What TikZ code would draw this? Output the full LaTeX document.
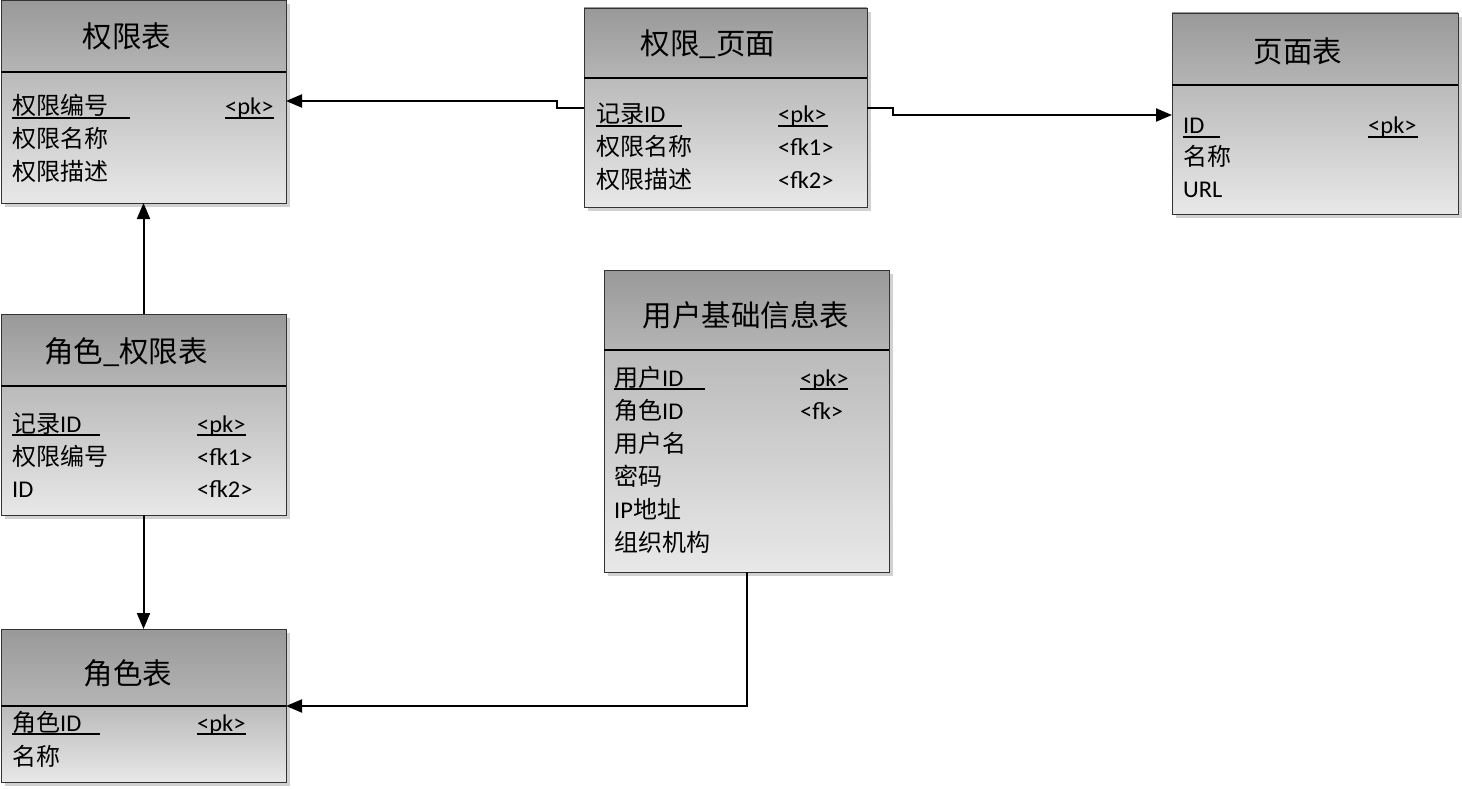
\documentclass[tikz,border=0pt]{standalone}
\usepackage{fontspec}
\setmainfont{Carlito}[FakeStretch=1.02]
\newfontfamily\cjk{Noto Sans CJK SC}
\usetikzlibrary{arrows.meta}
\newcommand\zh[1]{{\cjk #1}}
\tikzset{
  tbl/.style={draw=black!80, line width=0.8pt, inner sep=0pt, outer sep=0pt, anchor=north west},
  hdr/.style={top color=black!40, bottom color=black!29},
  bdy/.style={top color=black!27, bottom color=black!9},
  shadowbox/.style={fill=black!18},
  divider/.style={line width=2.6pt, black},
  ttl/.style={font=\cjk\fontsize{29.5}{33}\selectfont, anchor=center, inner sep=0pt},
  row/.style={font=\fontsize{24}{28}\selectfont, anchor=base west, inner sep=0pt},
  uline/.style={line width=1.3pt, black},
  conn/.style={line width=2pt, -{Triangle[length=16pt,width=13pt]}}
}
% #1 name, #2 x1, #3 y1, #4 x2, #5 y2, #6 divider y
\newcommand\erbox[6]{%
  \fill[shadowbox] (#2+4,#3+4) rectangle (#4+4,#5+4);
  \shade[hdr] (#2,#3) rectangle (#4,#6);
  \shade[bdy] (#2,#6) rectangle (#4,#5);
  \node[tbl, minimum width={#4-#2}, minimum height={#5-#3}] (#1) at (#2,#3) {};
  \draw[divider] (#2,#6) -- (#4,#6);
}
\begin{document}
\begin{tikzpicture}[x=1pt,y=-1pt]
\useasboundingbox (0,0) rectangle (1462,789);
\fill[white] (0,0) rectangle (1462,789);

% ---------- 权限表 ----------
\erbox{qx}{1}{0}{286}{203}{72}
\node[ttl] (qxT) at (127,36) {权限表};
\node[row] (qx1) at (12,115) {\zh{权限编号}};
\node[row] (qx1k) at (225,115) {<pk>};
\node[row] (qx2) at (12,148) {\zh{权限名称}};
\node[row] (qx3) at (12,181) {\zh{权限描述}};
\draw[uline] (12,118) -- (130,118);
\draw[uline] (225,118) -- (274,118);

% ---------- 权限_页面 ----------
\erbox{qy}{584}{8}{867}{207}{78}
\node[ttl] (qyT) at (708,44) {权限\_页面};
\node[row] (qy1) at (596,123) {\zh{记录}ID};
\node[row] (qy1k) at (778,123) {<pk>};
\node[row] (qy2) at (596,156) {\zh{权限名称}};
\node[row] (qy2k) at (778,156) {<fk1>};
\node[row] (qy3) at (596,189) {\zh{权限描述}};
\node[row] (qy3k) at (778,189) {<fk2>};
\draw[uline] (596,126) -- (682,126);
\draw[uline] (778,126) -- (828,126);

% ---------- 页面表 ----------
\erbox{ym}{1172}{13}{1458}{214}{85}
\node[ttl] (ymT) at (1298,51) {页面表};
\node[row] (ym1) at (1183,134) {ID};
\node[row] (ym1k) at (1368,134) {<pk>};
\node[row] (ym2) at (1183,166) {\zh{名称}};
\node[row] (ym3) at (1183,197) {URL};
\draw[uline] (1183,137) -- (1220,137);
\draw[uline] (1368,137) -- (1418,137);

% ---------- 角色_权限表 ----------
\erbox{jq}{1}{314}{286}{515}{386}
\node[ttl] (jqT) at (126,352) {角色\_权限表};
\node[row] (jq1) at (12,432) {\zh{记录}ID};
\node[row] (jq1k) at (197,432) {<pk>};
\node[row] (jq2) at (12,465) {\zh{权限编号}};
\node[row] (jq2k) at (197,465) {<fk1>};
\node[row] (jq3) at (12,497) {ID};
\node[row] (jq3k) at (197,497) {<fk2>};
\draw[uline] (12,435) -- (100,435);
\draw[uline] (197,435) -- (246,435);

% ---------- 用户基础信息表 ----------
\erbox{yh}{604}{270}{889}{572}{350}
\node[ttl] (yhT) at (746,315) {用户基础信息表};
\node[row] (yh1) at (614,386) {\zh{用户}ID};
\node[row] (yh1k) at (800,386) {<pk>};
\node[row] (yh2) at (614,419) {\zh{角色}ID};
\node[row] (yh2k) at (800,419) {<fk>};
\node[row] (yh3) at (614,452) {\zh{用户名}};
\node[row] (yh4) at (614,485) {\zh{密码}};
\node[row] (yh5) at (614,518) {IP\zh{地址}};
\node[row] (yh6) at (614,551) {\zh{组织机构}};
\draw[uline] (614,389) -- (705,389);
\draw[uline] (800,389) -- (848,389);

% ---------- 角色表 ----------
\erbox{js}{1}{629}{286}{782}{706}
\node[ttl] (jsT) at (128,673) {角色表};
\node[row] (js1) at (12,731) {\zh{角色}ID};
\node[row] (js1k) at (197,731) {<pk>};
\node[row] (js2) at (12,765) {\zh{名称}};
\draw[uline] (12,734) -- (100,734);
\draw[uline] (197,734) -- (246,734);

% ---------- connectors ----------
\coordinate (yA) at (0,101);
\coordinate (yB) at (0,108);
\coordinate (yC) at (0,115);
\coordinate (yF) at (0,706);
\coordinate (xL) at (557,0);
\coordinate (xR) at (893,0);
\coordinate (xE) at (747,0);

\draw[conn] (qy.west |- yB) -- (xL |- yB) -- (xL |- yA) -- (qx.east |- yA);
\draw[conn] (qy.east |- yB) -- (xR |- yB) -- (xR |- yC) -- (ym.west |- yC);
\draw[conn] (jq.north) -- (qx.south);
\draw[conn] (jq.south) -- (js.north);
\draw[conn] (yh.south -| xE) -- (xE |- yF) -- (js.east |- yF);
\end{tikzpicture}
\end{document}
